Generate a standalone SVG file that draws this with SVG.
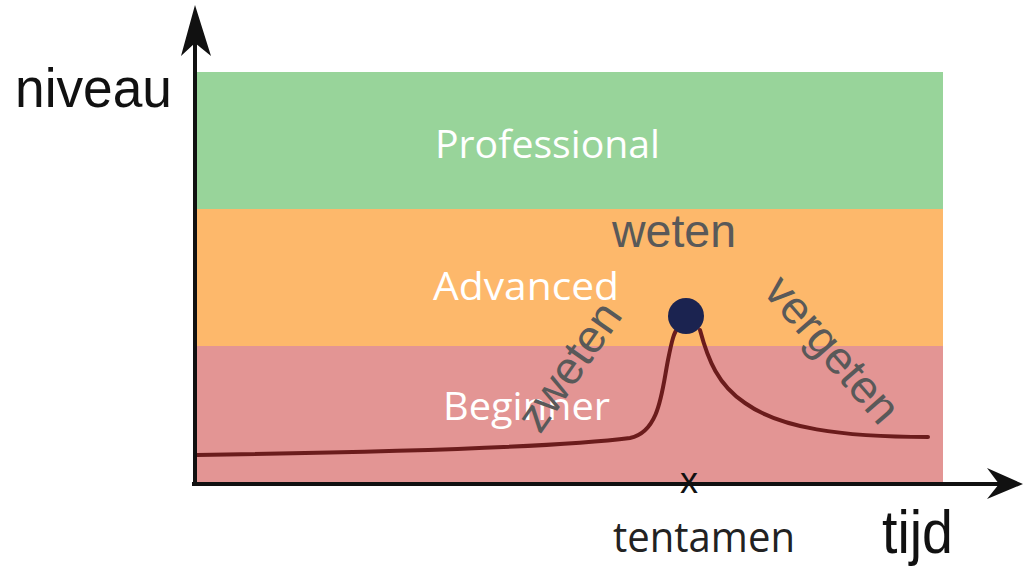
<svg xmlns="http://www.w3.org/2000/svg" width="1027" height="577" viewBox="0 0 1027 577">
  <style>
    .band-label { font-family: "Open Sans", "Liberation Sans", sans-serif; font-size: 39px; fill: #ffffff; }
    .gray { font-family: "Liberation Sans", Arial, sans-serif; font-size: 46px; fill: #595959; }
    .hand { font-family: "Liberation Sans", Arial, sans-serif; fill: #111111; }
    .axis { stroke: #111111; stroke-width: 4; fill: none; }
  </style>
  <rect width="1027" height="577" fill="#ffffff"/>

  <g id="band-professional">
    <rect x="197" y="72" width="746" height="137" fill="#98d49a"/>
    <text class="band-label" x="435" y="158" textLength="225" lengthAdjust="spacingAndGlyphs">Professional</text>
  </g>
  <g id="band-advanced">
    <rect x="197" y="209" width="746" height="137" fill="#fdb86b"/>
    <text class="band-label" x="433" y="300" textLength="186" lengthAdjust="spacingAndGlyphs">Advanced</text>
  </g>
  <g id="band-beginner">
    <rect x="197" y="346" width="746" height="136" fill="#e39594"/>
    <text class="band-label" x="443" y="420" textLength="167" lengthAdjust="spacingAndGlyphs">Beginner</text>
  </g>

  <g id="connectors">
    <path d="M197,455 C400,452 560,447 630,438 C660,432 662,390 668,360 C672,340 674,332 678,328 M700,330 C708,360 718,385 745,403 C780,428 840,437 928,437" stroke="#6b1c1c" stroke-width="4" fill="none" stroke-linecap="round"/>
  </g>

  <g id="peak">
    <circle cx="686" cy="316" r="18" fill="#1b2350"/>
  </g>

  <g id="axes">
    <line class="axis" x1="195" y1="486" x2="195" y2="40"/>
    <polygon points="195,5 211,56 195,43 181,56" fill="#111111"/>
    <line class="axis" x1="192" y1="484" x2="1000" y2="484"/>
    <polygon points="1023,484 987,499 999,484 987,468" fill="#111111"/>
  </g>

  <g id="label-niveau">
    <text class="hand" x="15" y="107" font-size="55" textLength="157" lengthAdjust="spacingAndGlyphs">niveau</text>
  </g>
  <g id="label-tijd">
    <text class="hand" x="882" y="553" font-size="62" textLength="71" lengthAdjust="spacingAndGlyphs">tijd</text>
  </g>
  <g id="label-tentamen">
    <text x="689" y="493" text-anchor="middle" font-family="Liberation Sans, Arial, sans-serif" font-size="36" fill="#111111">x</text>
    <text x="613" y="552" font-family="Open Sans, Liberation Sans, sans-serif" font-size="42" fill="#222222" textLength="182" lengthAdjust="spacingAndGlyphs">tentamen</text>
  </g>

  <g id="label-weten">
    <text class="gray" x="612" y="247" textLength="124" lengthAdjust="spacingAndGlyphs">weten</text>
  </g>
  <g id="label-zweten">
    <text class="gray" transform="translate(540,435) rotate(-55)">zweten</text>
  </g>
  <g id="label-vergeten">
    <text class="gray" transform="translate(762,292) rotate(49)">vergeten</text>
  </g>
</svg>
